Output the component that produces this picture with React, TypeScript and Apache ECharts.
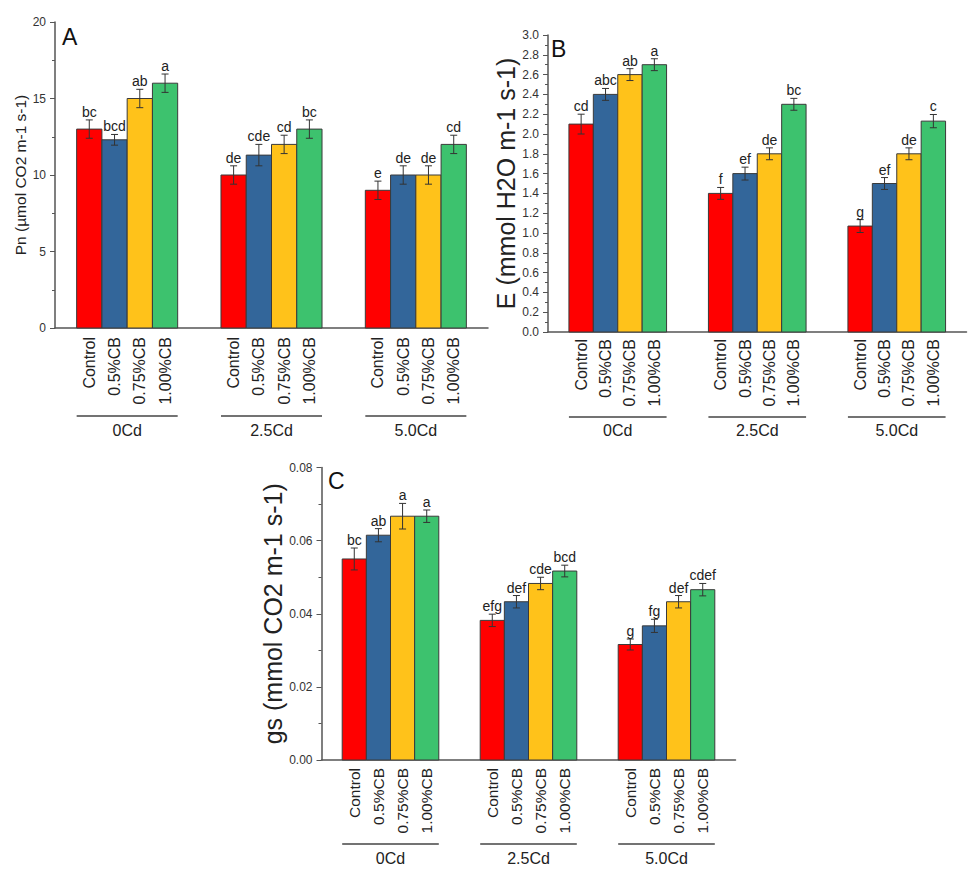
import React, { useEffect, useRef } from "react";
import * as echarts from "echarts";

const groups = ["0Cd", "2.5Cd", "5.0Cd"];
const treatments = ["Control", "0.5%CB", "0.75%CB", "1.00%CB"];
const barColors = ["#FF0000", "#33669A", "#FFC21A", "#3DC26E"];

const pnValues = [
  [13.0, 12.3, 15.0, 16.0],
  [10.0, 11.3, 12.0, 13.0],
  [9.0, 10.0, 10.0, 12.0],
];
const pnErrors = [
  [0.6, 0.35, 0.6, 0.6],
  [0.6, 0.7, 0.6, 0.6],
  [0.6, 0.6, 0.6, 0.6],
];
const pnLetters = [
  ["bc", "bcd", "ab", "a"],
  ["de", "cde", "cd", "bc"],
  ["e", "de", "de", "cd"],
];

const eValues = [
  [2.1, 2.4, 2.6, 2.7],
  [1.4, 1.6, 1.8, 2.3],
  [1.07, 1.5, 1.8, 2.13],
];
const eErrors = [
  [0.1, 0.06, 0.06, 0.06],
  [0.06, 0.065, 0.06, 0.06],
  [0.065, 0.06, 0.06, 0.067],
];
const eLetters = [
  ["cd", "abc", "ab", "a"],
  ["f", "ef", "de", "bc"],
  ["g", "ef", "de", "c"],
];

const gsValues = [
  [0.055, 0.0615, 0.0667, 0.0667],
  [0.0382, 0.0433, 0.0483, 0.0517],
  [0.0316, 0.0367, 0.0433, 0.0466],
];
const gsErrors = [
  [0.003, 0.0018, 0.0035, 0.0017],
  [0.0017, 0.0017, 0.0017, 0.0016],
  [0.0015, 0.0018, 0.0017, 0.0017],
];
const gsLetters = [
  ["bc", "ab", "a", "a"],
  ["efg", "def", "cde", "bcd"],
  ["g", "fg", "def", "cdef"],
];

const FONT = "Liberation Sans, Arial, sans-serif";

type Panel = {
  tag: string;
  values: number[][];
  errors: number[][];
  letters: string[][];
  grid: { left: number; top: number; width: number; height: number };
  yMax: number;
  interval: number;
  decimals: number;
  name: string;
  nameSize: number;
  nameGap: number;
  subFont: number;
  subOffset: number;
  underline: number;
  groupLabel: number;
  tagPos: [number, number];
};

const panels: Panel[] = [
  {
    tag: "A",
    values: pnValues,
    errors: pnErrors,
    letters: pnLetters,
    grid: { left: 55, top: 22, width: 433, height: 306 },
    yMax: 20,
    interval: 5,
    decimals: 0,
    name: "Pn (µmol CO2 m-1 s-1)",
    nameSize: 15.5,
    nameGap: 27,
    subFont: 16,
    subOffset: 9,
    underline: 88,
    groupLabel: 102,
    tagPos: [62, 25],
  },
  {
    tag: "B",
    values: eValues,
    errors: eErrors,
    letters: eLetters,
    grid: { left: 548, top: 35, width: 418.5, height: 297 },
    yMax: 3,
    interval: 0.2,
    decimals: 1,
    name: "E (mmol H2O m-1 s-1)",
    nameSize: 25,
    nameGap: 30,
    subFont: 16,
    subOffset: 7,
    underline: 85,
    groupLabel: 98,
    tagPos: [551, 37],
  },
  {
    tag: "C",
    values: gsValues,
    errors: gsErrors,
    letters: gsLetters,
    grid: { left: 321.5, top: 467.6, width: 414, height: 292.4 },
    yMax: 0.08,
    interval: 0.02,
    decimals: 2,
    name: "gs (mmol CO2 m-1 s-1)",
    nameSize: 25,
    nameGap: 35,
    subFont: 15.5,
    subOffset: 8,
    underline: 84,
    groupLabel: 98,
    tagPos: [328, 469],
  },
];

const GROUP_FRAC = 0.7;

function makeRender(p: Panel) {
  return (params: any, api: any) => {
    const g = api.value(0);
    const k = api.value(1);
    const v = api.value(2);
    const e = api.value(3);
    const base = api.coord([g, 0]);
    const slotW = api.size([1, 0])[0];
    const bw = (slotW * GROUP_FRAC) / 4;
    const groupStart = base[0] - 2 * bw;
    const x0 = groupStart + k * bw;
    const cx = x0 + bw / 2;
    const zero = base[1];
    const top = api.coord([g, v])[1];
    const eTop = api.coord([g, v + e])[1];
    const eBot = api.coord([g, v - e])[1];
    const cap = 3.5;
    const children: any[] = [
      {
        type: "rect",
        shape: { x: x0, y: top, width: bw, height: zero - top },
        style: { fill: barColors[k], stroke: "#3a3a3a", lineWidth: 1 },
      },
      {
        type: "line",
        shape: { x1: cx, y1: eBot, x2: cx, y2: eTop },
        style: { stroke: "#333", lineWidth: 1 },
      },
      {
        type: "line",
        shape: { x1: cx - cap, y1: eTop, x2: cx + cap, y2: eTop },
        style: { stroke: "#333", lineWidth: 1 },
      },
      {
        type: "line",
        shape: { x1: cx - cap, y1: eBot, x2: cx + cap, y2: eBot },
        style: { stroke: "#333", lineWidth: 1 },
      },
      {
        type: "text",
        x: cx,
        y: eTop - 1,
        style: {
          text: p.letters[g][k],
          fill: "#222",
          fontSize: 14,
          fontFamily: FONT,
          align: "center",
          verticalAlign: "bottom",
        },
      },
      {
        type: "text",
        x: cx,
        y: zero + p.subOffset,
        rotation: Math.PI / 2,
        style: {
          text: treatments[k],
          fill: "#222",
          fontSize: p.subFont,
          fontFamily: FONT,
          align: "right",
          verticalAlign: "middle",
        },
      },
    ];
    if (k === 0) {
      children.push(
        {
          type: "line",
          shape: {
            x1: groupStart,
            y1: zero + p.underline,
            x2: groupStart + 4 * bw,
            y2: zero + p.underline,
          },
          style: { stroke: "#444", lineWidth: 1.5 },
        },
        {
          type: "text",
          x: base[0],
          y: zero + p.groupLabel,
          style: {
            text: groups[g],
            fill: "#222",
            fontSize: 16,
            fontFamily: FONT,
            align: "center",
            verticalAlign: "middle",
          },
        }
      );
    }
    return { type: "group", children };
  };
}

export default function App() {
  const ref = useRef<HTMLDivElement>(null);
  useEffect(() => {
    document.body.style.margin = "0";
    if (!ref.current) return;
    const chart = echarts.init(ref.current, undefined, { renderer: "svg" });
    const option: any = {
      animation: false,
      backgroundColor: "#ffffff",
      textStyle: { fontFamily: FONT },
      grid: panels.map((p) => ({ ...p.grid, containLabel: false })),
      xAxis: panels.map((p, i) => ({
        type: "category",
        gridIndex: i,
        data: groups,
        boundaryGap: true,
        axisLine: { show: true, lineStyle: { color: "#555", width: 1.5 } },
        axisTick: { show: false },
        axisLabel: { show: false },
        splitLine: { show: false },
      })),
      yAxis: panels.map((p, i) => ({
        type: "value",
        gridIndex: i,
        min: 0,
        max: p.yMax,
        interval: p.interval,
        name: p.name,
        nameLocation: "middle",
        nameRotate: 90,
        nameGap: p.nameGap,
        nameTextStyle: { fontSize: p.nameSize, color: "#222", fontFamily: FONT },
        axisLine: { show: true, lineStyle: { color: "#555", width: 1.5 } },
        axisTick: { show: true, length: 5, lineStyle: { color: "#555", width: 1 } },
        minorTick: { show: true, splitNumber: 2, length: 3, lineStyle: { color: "#555", width: 1 } },
        axisLabel: {
          fontSize: 12,
          color: "#333",
          margin: 9,
          fontFamily: FONT,
          formatter: (val: number) => val.toFixed(p.decimals),
        },
        splitLine: { show: false },
        minorSplitLine: { show: false },
      })),
      series: panels.map((p, i) => {
        const data: number[][] = [];
        p.values.forEach((row, g) =>
          row.forEach((v, k) => data.push([g, k, v, p.errors[g][k]]))
        );
        return {
          type: "custom",
          xAxisIndex: i,
          yAxisIndex: i,
          clip: false,
          encode: { x: 0, y: 2 },
          data,
          renderItem: makeRender(p),
        };
      }),
      graphic: panels.map((p) => ({
        type: "text",
        left: p.tagPos[0],
        top: p.tagPos[1],
        style: { text: p.tag, fontSize: 23, fill: "#111", fontFamily: FONT },
      })),
    };
    chart.setOption(option);
    return () => chart.dispose();
  }, []);
  return <div ref={ref} style={{ width: 975, height: 876 }} />;
}
